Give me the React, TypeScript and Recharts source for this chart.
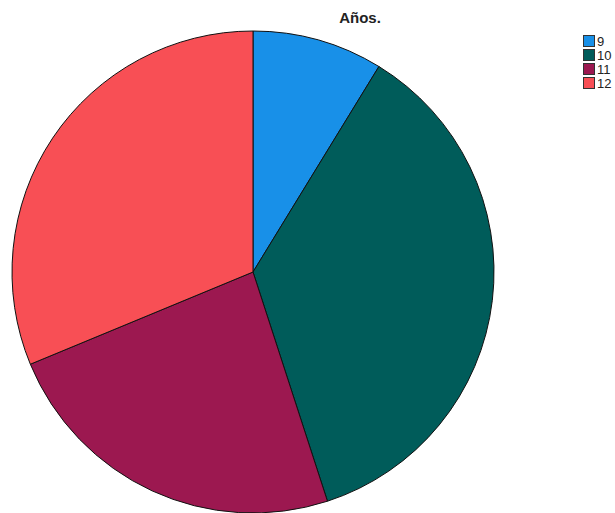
import { PieChart, Pie, Cell, Legend } from 'recharts';

// Age categories and counts
const categories = ['9', '10', '11', '12'];
const counts = [7, 29, 19, 25];
const colors = ['#1890e8', '#005c5a', '#9c1850', '#f84f55'];

const data = categories.map((c, i) => ({ name: c, value: counts[i] }));

function LegendContent() {
  return (
    <div style={{ fontFamily: '"Liberation Sans", Arial, sans-serif', fontSize: 13, color: '#222' }}>
      {categories.map((c, i) => (
        <div key={c} style={{ display: 'flex', alignItems: 'center', height: 14 }}>
          <span
            style={{
              width: 10,
              height: 10,
              background: colors[i],
              border: '1px solid #333',
              marginRight: 2,
              display: 'inline-block',
            }}
          />
          <span>{c}</span>
        </div>
      ))}
    </div>
  );
}

export default function App() {
  return (
    <div style={{ position: 'absolute', left: 0, top: 0, width: 615, height: 513, background: '#fff' }}>
      <div
        style={{
          position: 'absolute',
          left: 330,
          top: 9,
          width: 60,
          textAlign: 'center',
          fontFamily: '"Liberation Sans", Arial, sans-serif',
          fontWeight: 'bold',
          fontSize: 15,
          color: '#222',
        }}
      >
        Años.
      </div>
      <PieChart width={615} height={513} margin={{ top: 0, right: 0, bottom: 0, left: 0 }}>
        <Pie
          data={data}
          dataKey="value"
          nameKey="name"
          cx={253}
          cy={272}
          outerRadius={241}
          startAngle={90}
          endAngle={-270}
          stroke="#111"
          strokeWidth={1}
          isAnimationActive={false}
        >
          {data.map((d, i) => (
            <Cell key={d.name} fill={colors[i]} />
          ))}
        </Pie>
        <Legend
          layout="vertical"
          verticalAlign="top"
          align="right"
          content={<LegendContent />}
          wrapperStyle={{ top: 34, left: 583, width: 32 }}
        />
      </PieChart>
    </div>
  );
}
